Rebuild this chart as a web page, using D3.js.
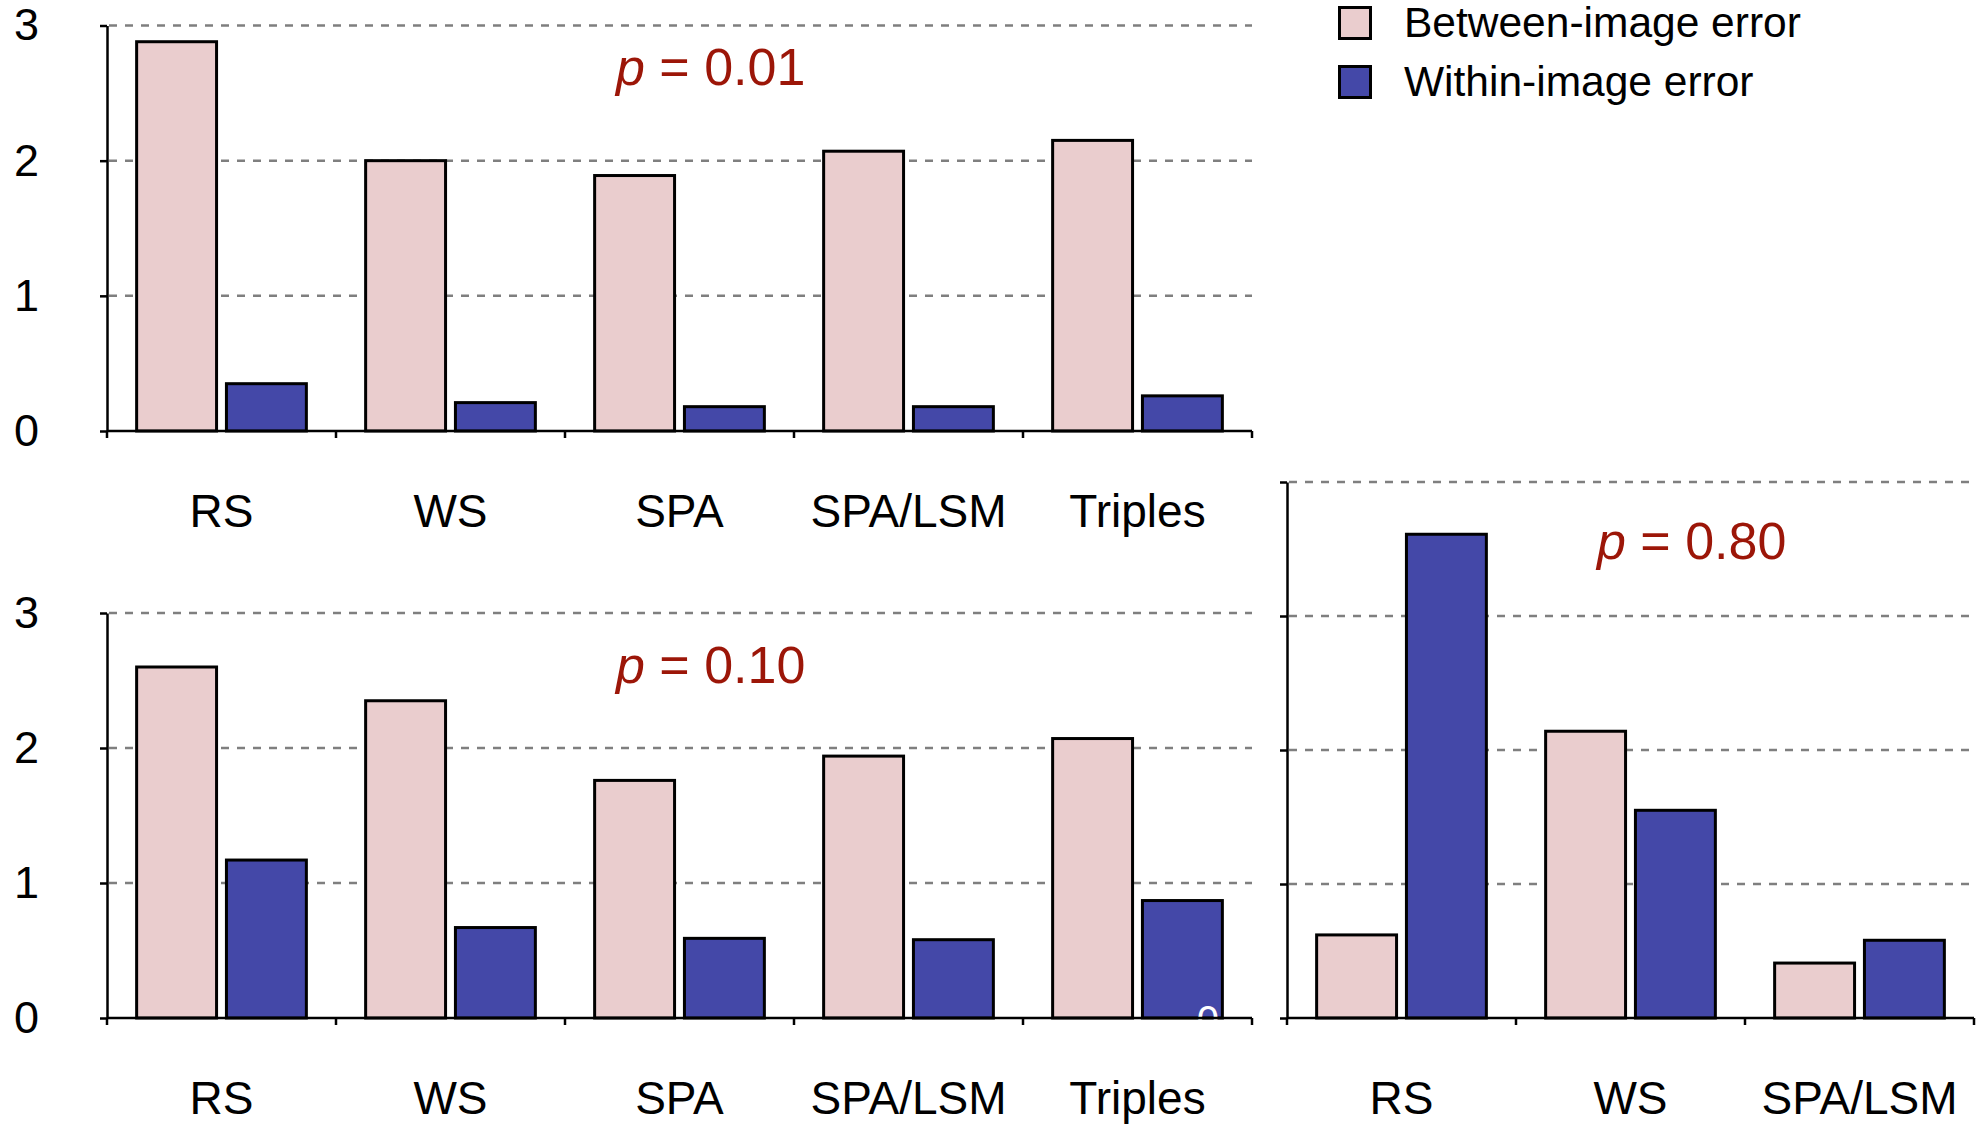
<!DOCTYPE html>
<html>
<head>
<meta charset="utf-8">
<script src="https://cdn.jsdelivr.net/npm/d3@7"></script>
<style>
  body { margin: 0; background: #fff; }
  svg { display: block; font-family: "Liberation Sans", Arial, Helvetica, sans-serif; }
</style>
</head>
<body>
<svg id="chart" width="1983" height="1126"></svg>
<script>
// values
const categories = ['RS', 'WS', 'SPA', 'SPA/LSM', 'Triples'];
const rightCategories = ['RS', 'WS', 'SPA/LSM'];
const series = ['Between-image error', 'Within-image error'];

const betweenP01 = [2.88, 2.0, 1.89, 2.07, 2.15];
const withinP01 = [0.35, 0.21, 0.18, 0.18, 0.26];
const betweenP10 = [2.60, 2.35, 1.76, 1.94, 2.07];
const withinP10 = [1.17, 0.67, 0.59, 0.58, 0.87];
const betweenP80 = [0.62, 2.14, 0.41];
const withinP80 = [3.61, 1.55, 0.58];

const ticks3 = [0, 1, 2, 3];
const ticks4 = [0, 1, 2, 3, 4];
const pLabels = ['p = 0.01', 'p = 0.10', 'p = 0.80'];

const colors = d3.scaleOrdinal().domain(series).range(['#eacdce', '#4448a8']);
const pColor = '#9c1608';

const svg = d3.select('#chart');

function drawPanel(opts) {
  const {cats, between, within, left, right, top, bottom, yMax, ticks, showLabels, pText, pX, pY} = opts;
  const g = svg.append('g');

  const x = d3.scaleBand().domain(cats).range([left, right]).padding(0);
  const x2 = d3.scaleBand().domain(series).range([0, x.bandwidth()])
    .paddingInner(0.11).paddingOuter(0.33);
  const y = d3.scaleLinear().domain([0, yMax]).range([bottom, top]);

  // dashed grid
  g.append('g').selectAll('line')
    .data(ticks.filter(t => t > 0))
    .enter().append('line')
      .attr('x1', left + 2).attr('x2', right)
      .attr('y1', d => y(d)).attr('y2', d => y(d))
      .attr('stroke', '#7f7f7f')
      .attr('stroke-width', 2.5)
      .attr('stroke-dasharray', '8,8');

  const rows = cats.map((c, i) => ({cat: c, vals: [between[i], within[i]]}));

  g.append('g').selectAll('g')
    .data(rows)
    .enter().append('g')
      .attr('transform', d => `translate(${x(d.cat)},0)`)
    .selectAll('rect')
    .data(d => d.vals.map((v, k) => ({key: series[k], v})))
    .enter().append('rect')
      .attr('x', d => x2(d.key))
      .attr('width', x2.bandwidth())
      .attr('y', d => y(d.v))
      .attr('height', d => y(0) - y(d.v))
      .attr('fill', d => colors(d.key))
      .attr('stroke', '#000')
      .attr('stroke-width', 3);

  if (opts.stray) {
    // stray white data label peeking out at the foot of the last bar
    g.append('text')
      .attr('x', x(cats[cats.length - 1]) + x2(series[1]) + x2.bandwidth() * 0.82)
      .attr('y', bottom + 16)
      .attr('text-anchor', 'middle')
      .attr('font-size', 40)
      .attr('fill', '#fff')
      .text('0');
  }

  // y axis
  const yAxis = d3.axisLeft(y).tickValues(ticks).tickSize(7).tickSizeOuter(0)
    .tickPadding(61).tickFormat(showLabels ? d3.format('d') : '');
  const ya = g.append('g').attr('transform', `translate(${left},0)`).call(yAxis);
  ya.select('.domain').attr('stroke-width', 2.5);
  ya.selectAll('.tick line').attr('stroke-width', 2.5);
  ya.selectAll('.tick text')
    .attr('font-size', 45).attr('fill', '#000')
    .attr('font-family', '"Liberation Sans", Arial, sans-serif');

  // x axis line with ticks on band edges
  g.append('line')
    .attr('x1', left).attr('x2', right)
    .attr('y1', bottom).attr('y2', bottom)
    .attr('stroke', '#000').attr('stroke-width', 2.5);
  const edges = cats.map(c => x(c)).concat([right]);
  g.append('g').selectAll('line')
    .data(edges)
    .enter().append('line')
      .attr('x1', d => d).attr('x2', d => d)
      .attr('y1', bottom).attr('y2', bottom + 7)
      .attr('stroke', '#000').attr('stroke-width', 2.5);

  g.append('g').selectAll('text')
    .data(cats)
    .enter().append('text')
      .attr('x', d => x(d) + x.bandwidth() / 2)
      .attr('y', bottom + 96)
      .attr('text-anchor', 'middle')
      .attr('font-size', 46)
      .attr('fill', '#000')
      .text(d => d);

  // p value
  const [pv, rest] = [pText.slice(0, 1), pText.slice(1)];
  const pt = g.append('text')
    .attr('x', pX).attr('y', pY)
    .attr('font-size', 52)
    .attr('fill', pColor);
  pt.append('tspan').attr('font-style', 'italic').text(pv);
  pt.append('tspan').text(rest);
}

drawPanel({cats: categories, between: betweenP01, within: withinP01,
  left: 107, right: 1252, top: 25.5, bottom: 431, yMax: 3, ticks: ticks3,
  showLabels: true, pText: pLabels[0], pX: 616, pY: 85});

drawPanel({cats: categories, between: betweenP10, within: withinP10,
  left: 107, right: 1252, top: 613, bottom: 1018, yMax: 3, ticks: ticks3,
  showLabels: true, pText: pLabels[1], pX: 616, pY: 683, stray: true});

drawPanel({cats: rightCategories, between: betweenP80, within: withinP80,
  left: 1287, right: 1974, top: 482, bottom: 1018, yMax: 4, ticks: ticks4,
  showLabels: false, pText: pLabels[2], pX: 1597, pY: 559});

// legend
const legend = svg.append('g').attr('transform', 'translate(1338,6)');
const item = legend.selectAll('g')
  .data(series)
  .enter().append('g')
    .attr('transform', (d, i) => `translate(0,${i * 59})`);
item.append('rect')
  .attr('x', 1.5).attr('y', 1.5)
  .attr('width', 31).attr('height', 31)
  .attr('fill', d => colors(d))
  .attr('stroke', '#000').attr('stroke-width', 3);
item.append('text')
  .attr('x', 66).attr('y', 31)
  .attr('font-size', 42.5)
  .attr('fill', '#000')
  .text(d => d);
</script>
</body>
</html>
